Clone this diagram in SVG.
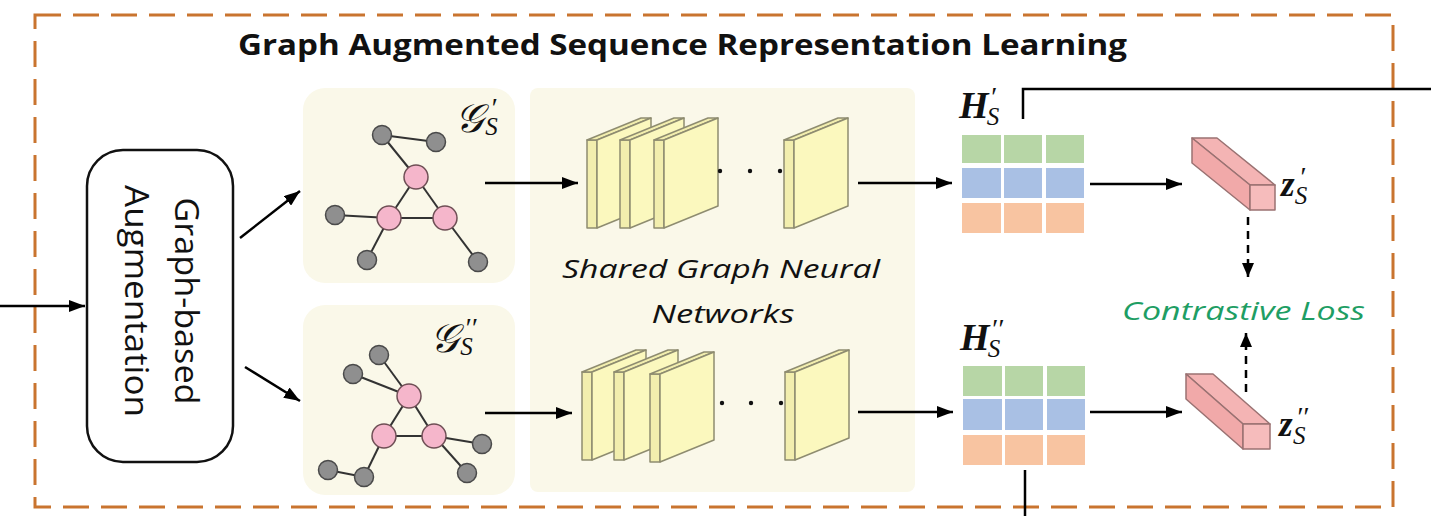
<svg xmlns="http://www.w3.org/2000/svg" width="1431" height="516" viewBox="0 0 1431 516">
<defs>
<marker id="arr" viewBox="0 0 16 12" refX="16" refY="6" markerWidth="16" markerHeight="12" markerUnits="userSpaceOnUse" orient="auto">
<path d="M0,0 L16,6 L0,12 z" fill="#000"/>
</marker>
<marker id="arrs" viewBox="0 0 14 12" refX="14" refY="6" markerWidth="14" markerHeight="12" markerUnits="userSpaceOnUse" orient="auto">
<path d="M0,0 L14,6 L0,12 z" fill="#000"/>
</marker>
<g id="slab">
<rect x="0" y="0" width="10" height="88" class="strip"/>
<polygon points="0,0 54,-22 64,-22 10,0" class="strip"/>
<polygon points="10,0 64,-22 64,66 10,88" class="face"/>
</g>
</defs>
<style>
.frame{fill:none;stroke:#c9742f;stroke-width:3;stroke-dasharray:26 12}
.panel{fill:#faf8e9;stroke:none}
.edge{stroke:#333;stroke-width:2}
.gn{fill:#8f8f8f;stroke:#4a4a4a;stroke-width:1.5}
.pn{fill:#f5b6cb;stroke:#6e4f55;stroke-width:1.5}
.strip{fill:#f2eeae;stroke:#8e8c70;stroke-width:1.5;stroke-linejoin:round}
.face{fill:#fbf8be;stroke:#8e8c70;stroke-width:1.5;stroke-linejoin:round}
.conn{fill:none;stroke:#000;stroke-width:2.5}
.dash{fill:none;stroke:#000;stroke-width:2.5;stroke-dasharray:8 6}
.g{fill:#b7d6a6}.b{fill:#a9c0e4}.o{fill:#f8c4a1}
.zf{fill:#f6bcbc;stroke:#9a7272;stroke-width:1.5;stroke-linejoin:round}
.zt{fill:#f4b4b4;stroke:#9a7272;stroke-width:1.5;stroke-linejoin:round}
.zl{fill:#f1a9a9;stroke:#9a7272;stroke-width:1.5;stroke-linejoin:round}
.math{font-family:"Liberation Serif","DejaVu Serif",serif;font-style:italic;fill:#111}
.sup{font-size:28px;font-weight:normal;font-style:italic}
.sub{font-size:25px;font-weight:normal;font-style:italic}
.sans{font-family:"Open Sans","Liberation Sans",sans-serif;fill:#111}
</style>
<rect width="1431" height="516" fill="#fff"/>
<rect class="frame" x="35" y="15" width="1358" height="492"/>
<text class="sans" x="238" y="55" font-size="29" font-weight="bold" textLength="889" lengthAdjust="spacingAndGlyphs">Graph Augmented Sequence Representation Learning</text>

<g id="aug">
<rect x="87" y="150" width="146" height="312" rx="36" ry="36" fill="#fff" stroke="#111" stroke-width="2.5"/>
<text class="sans" font-size="32" text-anchor="middle" transform="translate(175,301) rotate(90)" textLength="207" lengthAdjust="spacingAndGlyphs">Graph-based</text>
<text class="sans" font-size="32" text-anchor="middle" transform="translate(125,301) rotate(90)" textLength="232" lengthAdjust="spacingAndGlyphs">Augmentation</text>
</g>

<g id="graph1">
<rect class="panel" x="303" y="88" width="212" height="195" rx="22"/>
<line class="edge" x1="382" y1="135" x2="436" y2="142"/>
<line class="edge" x1="382" y1="135" x2="416" y2="177"/>
<line class="edge" x1="416" y1="177" x2="389" y2="218"/>
<line class="edge" x1="416" y1="177" x2="445" y2="218"/>
<line class="edge" x1="389" y1="218" x2="445" y2="218"/>
<line class="edge" x1="335" y1="215" x2="389" y2="218"/>
<line class="edge" x1="389" y1="218" x2="367" y2="260"/>
<line class="edge" x1="445" y1="218" x2="478" y2="262"/>
<circle class="gn" cx="382" cy="135" r="9.5"/>
<circle class="gn" cx="436" cy="142" r="9.5"/>
<circle class="gn" cx="335" cy="215" r="9.5"/>
<circle class="gn" cx="367" cy="260" r="9.5"/>
<circle class="gn" cx="478" cy="262" r="9.5"/>
<circle class="pn" cx="416" cy="177" r="12"/>
<circle class="pn" cx="389" cy="218" r="12"/>
<circle class="pn" cx="445" cy="218" r="12"/>
<text class="math" x="455" y="132" font-size="40">𝒢<tspan class="sup" dx="7" dy="-15">′</tspan><tspan class="sub" dx="-11" dy="18">S</tspan></text>
</g>

<g id="graph2">
<rect class="panel" x="303" y="305" width="212" height="190" rx="22"/>
<line class="edge" x1="379" y1="355" x2="409" y2="396"/>
<line class="edge" x1="353" y1="374" x2="409" y2="396"/>
<line class="edge" x1="409" y1="396" x2="384" y2="436"/>
<line class="edge" x1="409" y1="396" x2="434" y2="436"/>
<line class="edge" x1="384" y1="436" x2="434" y2="436"/>
<line class="edge" x1="434" y1="436" x2="482" y2="444"/>
<line class="edge" x1="434" y1="436" x2="467" y2="473"/>
<line class="edge" x1="384" y1="436" x2="364" y2="477"/>
<line class="edge" x1="364" y1="477" x2="328" y2="470"/>
<circle class="gn" cx="379" cy="355" r="9.5"/>
<circle class="gn" cx="353" cy="374" r="9.5"/>
<circle class="gn" cx="482" cy="444" r="9.5"/>
<circle class="gn" cx="467" cy="473" r="9.5"/>
<circle class="gn" cx="364" cy="477" r="9.5"/>
<circle class="gn" cx="328" cy="470" r="9.5"/>
<circle class="pn" cx="409" cy="396" r="12"/>
<circle class="pn" cx="384" cy="436" r="12"/>
<circle class="pn" cx="434" cy="436" r="12"/>
<text class="math" x="430" y="352" font-size="40">𝒢<tspan class="sup" dx="6" dy="-15">′′</tspan><tspan class="sub" dx="-16" dy="18">S</tspan></text>
</g>

<g id="gnn">
<rect class="panel" x="530" y="88" width="385" height="404" rx="8"/>
<use href="#slab" x="587" y="140"/>
<use href="#slab" x="620" y="140"/>
<use href="#slab" x="654" y="140"/>
<use href="#slab" x="784" y="140"/>
<circle cx="720" cy="171" r="2.2" fill="#111"/>
<circle cx="750" cy="171" r="2.2" fill="#111"/>
<circle cx="780" cy="171" r="2.2" fill="#111"/>
<use href="#slab" x="582" y="372"/>
<use href="#slab" x="614" y="372"/>
<use href="#slab" x="650" y="374"/>
<use href="#slab" x="785" y="372"/>
<circle cx="722" cy="403" r="2.2" fill="#111"/>
<circle cx="751" cy="403" r="2.2" fill="#111"/>
<circle cx="781" cy="403" r="2.2" fill="#111"/>
<text class="sans" x="721" y="278" font-size="26" font-style="italic" text-anchor="middle" textLength="318" lengthAdjust="spacingAndGlyphs">Shared Graph Neural</text>
<text class="sans" x="723" y="323" font-size="26" font-style="italic" text-anchor="middle" textLength="143" lengthAdjust="spacingAndGlyphs">Networks</text>
</g>

<g id="H1">
<rect class="g" x="962" y="135" width="39" height="28"/>
<rect class="g" x="1004" y="135" width="38" height="28"/>
<rect class="g" x="1046" y="135" width="38" height="28"/>
<rect class="b" x="962" y="168" width="39" height="30"/>
<rect class="b" x="1004" y="168" width="38" height="30"/>
<rect class="b" x="1046" y="168" width="38" height="30"/>
<rect class="o" x="962" y="203" width="39" height="30"/>
<rect class="o" x="1004" y="203" width="38" height="30"/>
<rect class="o" x="1046" y="203" width="38" height="30"/>
<text class="math" x="959" y="118" font-size="38" font-weight="bold">H<tspan class="sup" dx="1" dy="-12">′</tspan><tspan class="sub" dx="-9" dy="19">S</tspan></text>
</g>

<g id="H2">
<rect class="g" x="963" y="366" width="39" height="30"/>
<rect class="g" x="1005" y="366" width="38" height="30"/>
<rect class="g" x="1047" y="366" width="38" height="30"/>
<rect class="b" x="963" y="399" width="39" height="31"/>
<rect class="b" x="1005" y="399" width="38" height="31"/>
<rect class="b" x="1047" y="399" width="38" height="31"/>
<rect class="o" x="963" y="435" width="39" height="30"/>
<rect class="o" x="1005" y="435" width="38" height="30"/>
<rect class="o" x="1047" y="435" width="38" height="30"/>
<text class="math" x="960" y="350" font-size="38" font-weight="bold">H<tspan class="sup" dx="1" dy="-12">′′</tspan><tspan class="sub" dx="-15" dy="19">S</tspan></text>
</g>

<g id="z1">
<polygon class="zt" points="1192,138 1217,138 1275,185 1250,185"/>
<polygon class="zl" points="1192,138 1250,185 1250,210 1192,163"/>
<rect class="zf" x="1250" y="185" width="25" height="25"/>
<text class="math" x="1281" y="196" font-size="35" font-weight="bold" font-style="normal">z<tspan class="sup" dx="4" dy="-10">′</tspan><tspan class="sub" dx="-10" dy="18">S</tspan></text>
</g>

<g id="z2">
<polygon class="zt" points="1186,374 1213,374 1270,424 1243,424"/>
<polygon class="zl" points="1186,374 1243,424 1243,449 1186,399"/>
<rect class="zf" x="1243" y="424" width="27" height="25"/>
<text class="math" x="1279" y="436" font-size="35" font-weight="bold" font-style="normal">z<tspan class="sup" dx="3" dy="-10">′′</tspan><tspan class="sub" dx="-15" dy="18">S</tspan></text>
</g>

<g id="loss">
<text class="sans" x="1122" y="320" font-size="26" font-style="italic" style="fill:#1e9e64" textLength="243" lengthAdjust="spacingAndGlyphs">Contrastive Loss</text>
</g>

<g id="connectors">
<line class="conn" x1="0" y1="306" x2="85" y2="306" marker-end="url(#arr)"/>
<line class="conn" x1="240" y1="238" x2="300" y2="191" marker-end="url(#arr)"/>
<line class="conn" x1="245" y1="367" x2="300" y2="401" marker-end="url(#arr)"/>
<line class="conn" x1="485" y1="183" x2="578" y2="183" marker-end="url(#arr)"/>
<line class="conn" x1="485" y1="413" x2="572" y2="413" marker-end="url(#arr)"/>
<line class="conn" x1="858" y1="183" x2="952" y2="183" marker-end="url(#arr)"/>
<line class="conn" x1="858" y1="412" x2="953" y2="412" marker-end="url(#arr)"/>
<line class="conn" x1="1090" y1="184" x2="1182" y2="184" marker-end="url(#arr)"/>
<line class="conn" x1="1090" y1="412" x2="1182" y2="412" marker-end="url(#arr)"/>
<polyline class="conn" points="1023,119 1023,89 1431,89"/>
<line class="conn" x1="1025" y1="470" x2="1025" y2="516"/>
<line class="dash" x1="1248" y1="217" x2="1248" y2="277" marker-end="url(#arrs)"/>
<line class="dash" x1="1246" y1="392" x2="1246" y2="333" marker-end="url(#arrs)"/>
</g>
</svg>
